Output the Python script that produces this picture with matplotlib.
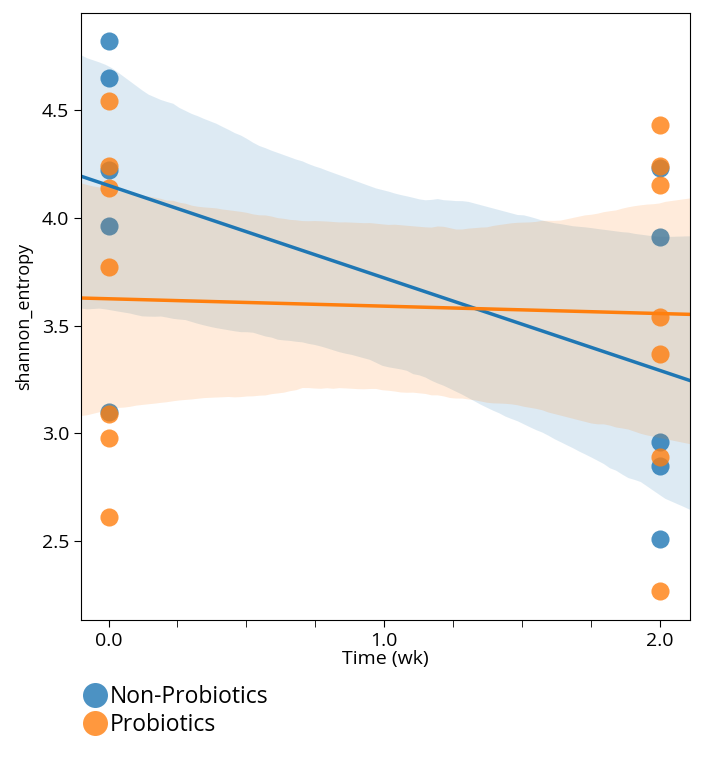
import matplotlib
matplotlib.use("Agg")
import matplotlib.pyplot as plt
import numpy as np
import pandas as pd
import seaborn as sns
from matplotlib.lines import Line2D
from matplotlib.ticker import MultipleLocator

plt.rcParams['font.family'] = ['Open Sans', 'DejaVu Sans']

groups = ['Non-Probiotics', 'Probiotics']
colors = ['#1f77b4', '#ff7f0e']

# shannon entropy per subject at week 0 and week 2
non_pro_wk0 = [4.82, 4.65, 4.22, 3.96, 3.10]
non_pro_wk2 = [4.23, 3.91, 2.96, 2.85, 2.51]
pro_wk0 = [4.54, 4.24, 4.14, 3.77, 3.09, 2.98, 2.61]
pro_wk2 = [4.43, 4.24, 4.15, 3.54, 3.37, 2.89, 2.27]

xticks = [0.0, 1.0, 2.0]
xticklabels = ['0.0', '1.0', '2.0']
yticks = [2.5, 3.0, 3.5, 4.0, 4.5]


def make_df(wk0, wk2):
    t = [0.0] * len(wk0) + [2.0] * len(wk2)
    return pd.DataFrame({'time': t, 'shannon_entropy': wk0 + wk2})


data = [make_df(non_pro_wk0, non_pro_wk2), make_df(pro_wk0, pro_wk2)]

fig = plt.figure(figsize=(7.07, 7.57), dpi=100)
ax = fig.add_axes([0.1146, 0.181, 0.8614, 0.8018])
ax.set_xlim(-0.1, 2.11)
ax.set_ylim(2.134, 4.95)

for df, col in zip(data, colors):
    sns.regplot(data=df, x='time', y='shannon_entropy', ax=ax, color=col,
                truncate=False, ci=95, seed=3,
                scatter_kws={'s': 170, 'alpha': 0.8, 'linewidths': 0},
                line_kws={'lw': 2.5})

ax.set_xlim(-0.1, 2.11)
ax.set_ylim(2.134, 4.95)
ax.set_xticks(xticks)
ax.set_xticklabels(xticklabels)
ax.xaxis.set_minor_locator(MultipleLocator(0.25))
ax.tick_params(axis='x', which='minor', length=5)
ax.tick_params(axis='both', which='major', length=5, labelsize=14)
ax.set_yticks(yticks)
ax.set_xlabel('Time (wk)', fontsize=14, labelpad=0)
ax.set_ylabel('shannon_entropy', fontsize=13, labelpad=6)

handles = [Line2D([], [], marker='o', ls='', color=c, alpha=0.8, markersize=18,
                  markeredgewidth=0) for c in colors]
fig.legend(handles, groups, loc='upper left', bbox_to_anchor=(0.103, 0.107),
           frameon=False, fontsize=16.5, handletextpad=0.1, labelspacing=0.15,
           borderaxespad=0, handlelength=1.1)

fig.savefig('out.png', dpi=100)
